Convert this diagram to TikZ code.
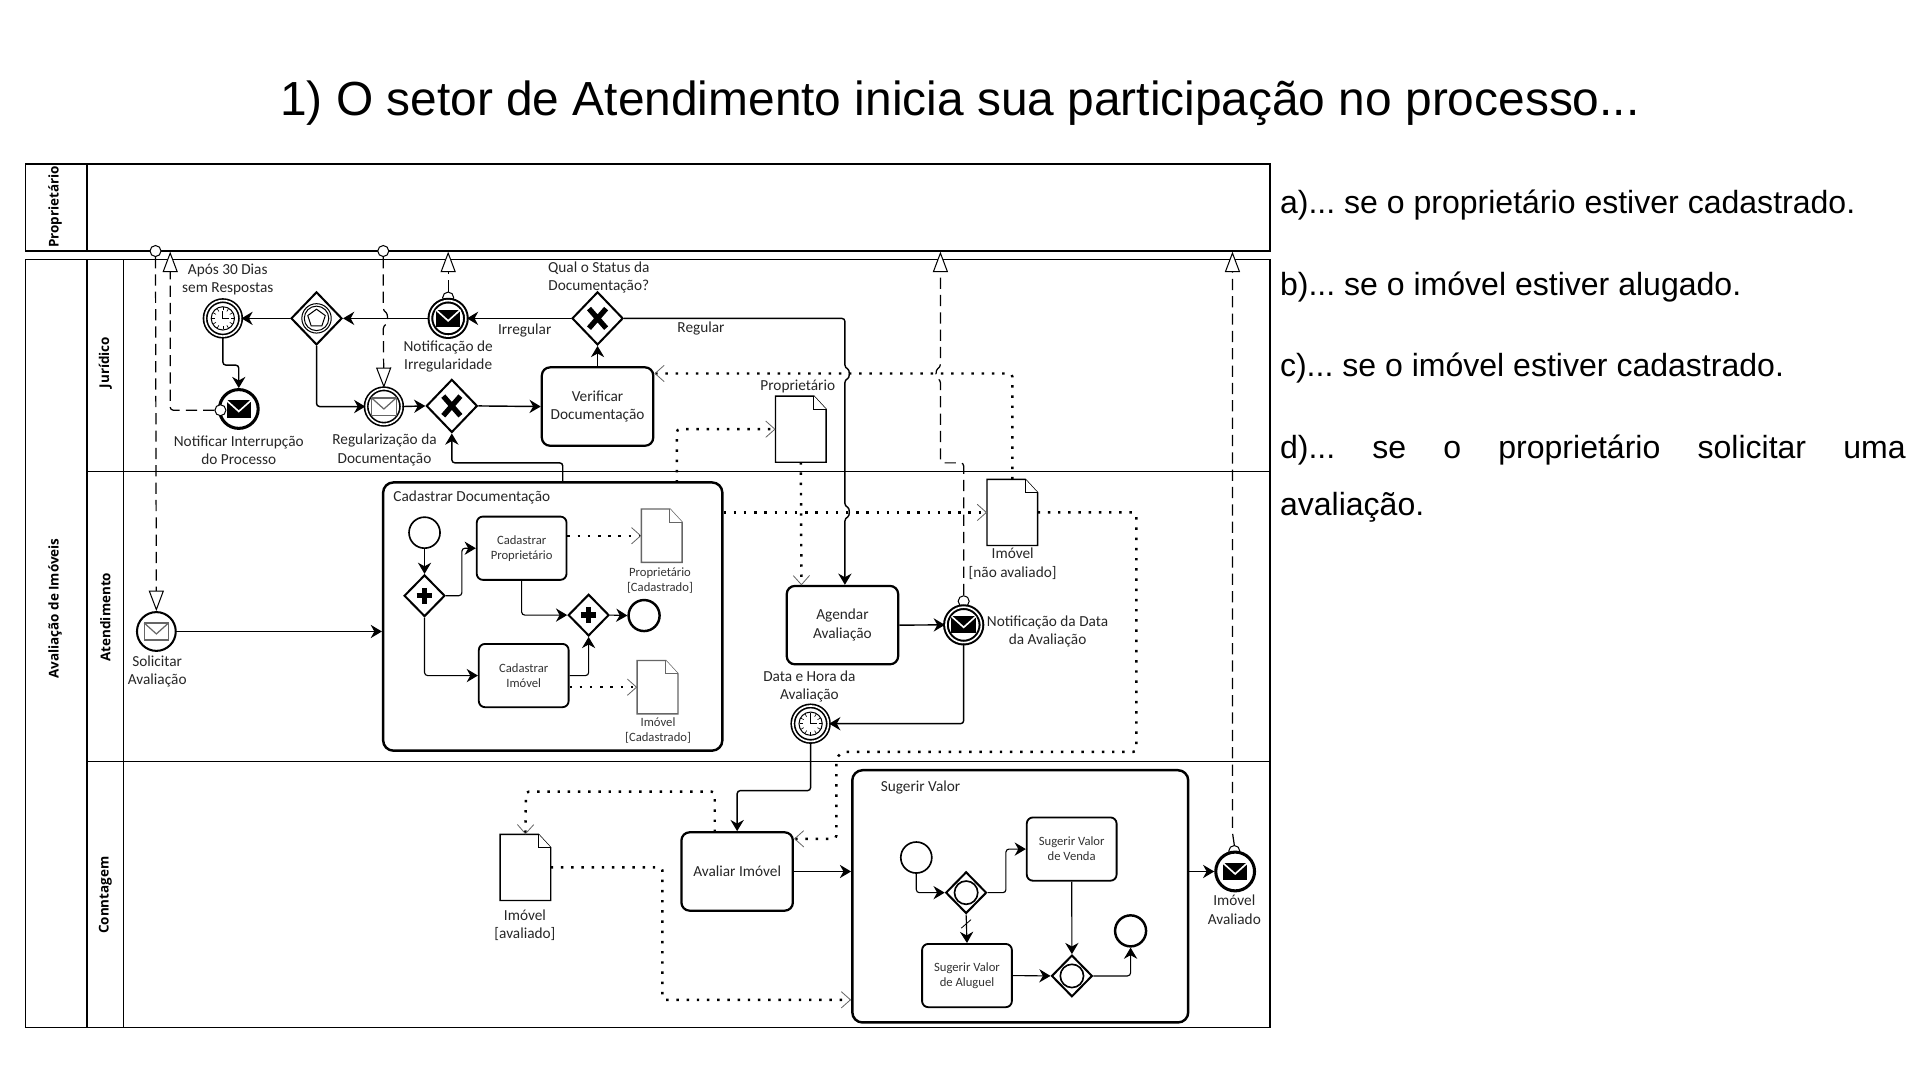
\documentclass[tikz,border=0pt]{standalone}
\usepackage{fontspec}
\setmainfont{Liberation Sans}
\newfontfamily\diagfont{Carlito}
\newfontfamily\lanefont{Open Sans}
\usepackage{xcolor}
\usepackage{tikz}
\usetikzlibrary{shapes.geometric,arrows.meta}

\tikzset{
    pics/mailblack/.style={code={
        \fill[black] (-10,-7) rectangle (10,7);
        \draw[white, line width=0.8pt] (-10,-7) -- (0,2) -- (10,-7);
    }},
    pics/mailwhite/.style={code={
        \draw[black!60, fill=white, line width=0.6pt] (-10,-7) rectangle (10,7);
        \draw[black!60, line width=0.6pt] (-10,-7) -- (0,2) -- (10,-7);
    }},
    pics/clockface/.style={code={
        \draw[line width=0.5pt] (0,0) circle (9.5);
        \foreach \a in {0,30,...,330} \draw[line width=0.3pt] (\a:6.5) -- (\a:9);
        \draw[line width=0.5pt] (0,-6) -- (0,0) -- (5,0);
    }},
    pics/xmark/.style={code={
        \draw[line width=2.6pt] (-7,-8) -- (7,8) (-7,8) -- (7,-8);
    }},
    pics/plusmark/.style={code={
        \draw[line width=2.6pt] (-8,0) -- (8,0) (0,-8) -- (0,8);
    }},
    pics/pentamark/.style={code={
        \draw[line width=0.5pt] (0,0) circle (12) (0,0) circle (10);
        \draw[line width=0.5pt] (270:7.5) -- (342:7.5) -- (54:7.5) -- (126:7.5) -- (198:7.5) -- cycle;
    }},
    pics/ringmark/.style={code={
        \draw[line width=0.8pt] (0,0) circle (9.5);
    }}
}

\newcommand{\docshape}[3]{%
    \node[docbox, minimum width=#3] (#1) at (#2) {};
    \draw[docline] (#1.south west) -- (#1.north west) -- ([xshift=-6pt]#1.north east)
        -- ([yshift=-6.5pt]#1.north east) -- (#1.south east) -- cycle;
    \draw[docline, line width=0.4pt] ([xshift=-6pt]#1.north east) -- ([xshift=-6pt,yshift=-6.5pt]#1.north east)
        -- ([yshift=-6.5pt]#1.north east);
}

\begin{document}
\frenchspacing
\begin{tikzpicture}[
    x=0.6pt, y=-0.6pt,
    title/.style={font=\fontsize{23.45}{28}\selectfont, inner sep=0, yshift=-2.4pt},
    answer/.style={font=\fontsize{15.7}{19}\selectfont, inner sep=0, anchor=west, yshift=-1.6pt},
    lbl/.style={font=\diagfont\fontsize{7.5}{9}\selectfont, align=center, inner sep=0, text=black!85, yshift=-0.6pt},
    smalllbl/.style={font=\diagfont\fontsize{6.2}{7.3}\selectfont, align=center, inner sep=0, text=black!80},
    lane/.style={font=\lanefont\bfseries\fontsize{6.6}{8}\selectfont, rotate=90, inner sep=0, xshift=0.6pt},
    frame/.style={draw, line width=0.7pt},
    task/.style={rectangle, draw, rounded corners=4pt, line width=1.1pt, minimum width=54.6pt, minimum height=38.4pt,
        inner sep=0, align=center, font=\diagfont\fontsize{7.5}{9.2}\selectfont, text=black!85, fill=white},
    smalltask/.style={rectangle, draw, rounded corners=3pt, line width=0.9pt, minimum width=44pt, minimum height=31pt,
        inner sep=0, align=center, font=\diagfont\fontsize{6.2}{7.3}\selectfont, text=black!80, fill=white},
    subproc/.style={rectangle, draw, rounded corners=5pt, line width=1.2pt, inner sep=0},
    gate/.style={diamond, draw, line width=1pt, minimum width=25pt, minimum height=26pt, inner sep=0, fill=white},
    smallgate/.style={diamond, draw, line width=1pt, minimum width=20pt, minimum height=20.4pt, inner sep=0, fill=white},
    plain/.style={circle, draw, line width=0.8pt, minimum size=15.2pt, inner sep=0, fill=white},
    endplain/.style={circle, draw, line width=1.2pt, minimum size=15.2pt, inner sep=0, fill=white},
    endevent/.style={circle, draw, line width=1.5pt, minimum size=19pt, inner sep=0, fill=white},
    inter/.style={circle, draw, line width=0.8pt, double, double distance=0.8pt, minimum size=17.4pt, inner sep=0, fill=white},
    startmsg/.style={circle, draw, line width=1pt, minimum size=19pt, inner sep=0, fill=white},
    orig/.style={circle, draw, line width=0.5pt, minimum size=5.4pt, inner sep=0, fill=white},
    docbox/.style={rectangle, inner sep=0, minimum height=32pt},
    docline/.style={draw, fill=white, line width=0.7pt},
    flow/.style={-{Stealth[length=5.5pt,width=6.5pt]}, line width=0.7pt, rounded corners=1.5pt},
    assoc/.style={-{Straight Barb[length=4.5pt,width=8pt,line width=0.4pt,black!60]}, line width=1.2pt,
        dash pattern=on 1.2pt off 3.8pt, rounded corners=1.5pt},
    msg/.style={-{Triangle[length=10pt,width=7.4pt,fill=white,line width=0.5pt]}, line width=0.6pt,
        dash pattern=on 5.5pt off 3pt, rounded corners=1.5pt}
]
\useasboundingbox (0,0) rectangle (1568,882);

% Title and answers
\node[title] (ttl) at (784,80) {1) O setor de Atendimento inicia sua participação no processo...};
\node[answer] (ansa) at (1045,165) {a)... se o proprietário estiver cadastrado.};
\node[answer] (ansb) at (1045,232) {b)... se o imóvel estiver alugado.};
\node[answer] (ansc) at (1045,298) {c)... se o imóvel estiver cadastrado.};
\node[answer] (ansd) at (1045,365) {\hbox to 306.6pt{d)...\hfill se\hfill o\hfill proprietário\hfill solicitar\hfill uma}};
\node[answer] (anse) at (1045,412) {avaliação.};

% Pools and lanes
\draw[frame] (21,134) rectangle (1037,205);
\draw[frame] (71,134) -- (71,205);
\draw[frame] (21,212) rectangle (1037,839);
\draw[frame] (71,212) -- (71,839);
\draw[frame] (101,212) -- (101,839);
\draw[frame] (71,385) -- (1037,385);
\draw[frame] (71,622) -- (1037,622);
\node[lane] (lprop) at (45,170) {Proprietário};
\node[lane] (laval) at (45,498) {Avaliação de Imóveis};
\node[lane] (ljur) at (86,297) {Jurídico};
\node[lane] (laten) at (86,505) {Atendimento};
\node[lane] (lcont) at (86,732) {Conntagem};

% Pool boundary points
\coordinate (pa) at (139,205.5);
\coordinate (pb) at (366,205.5);
\coordinate (pc) at (768,205.5);
\coordinate (pd) at (1006.5,205.5);
\node[orig] (oa) at (127,205) {};
\node[orig] (ob) at (313,205) {};
\node[orig] (oc) at (366,243) {};
\node[orig] (od) at (787,491) {};
\node[orig] (oe) at (1008,695) {};

% Juridico side
\node[inter] (timera) at (182,260) {};
\pic at (timera) {clockface};
\node[gate] (gwevent) at (258.5,260) {};
\pic at (gwevent) {pentamark};
\node[inter, line width=1pt] (notifirr) at (366,260) {};
\pic at (notifirr) {mailblack};
\node[gate] (gwstatus) at (488,260) {};
\pic at (gwstatus) {xmark};
\node[endevent] (notifint) at (195,334) {};
\pic at (notifint) {mailblack};
\node[orig] (of) at (180,335) {};
\node[inter] (regdoc) at (313.5,332) {};
\pic at (regdoc) {mailwhite};
\node[gate] (gwreg) at (369,331.5) {};
\pic at (gwreg) {xmark};
\node[task] (verificar) at (488,332) {Verificar\\Documentação};
\docshape{docprop}{654,350.5}{24.4pt}

\node[lbl] (tapos) at (186,227) {Após 30 Dias\\sem Respostas};
\node[lbl] (tstatus) at (489,225.5) {Qual o Status da\\Documentação?};
\node[lbl] (tnotif) at (366,290) {Notificação de\\Irregularidade};
\node[lbl] (tirr) at (428.5,268.5) {Irregular};
\node[lbl] (treg) at (572.5,267.5) {Regular};
\node[lbl] (tint) at (195,366.5) {Notificar Interrupção\\do Processo};
\node[lbl] (tregdoc) at (314,366.5) {Regularização da\\Documentação};
\node[lbl] (tprop) at (651.5,315) {Proprietário};

% Atendimento side
\node[startmsg] (solicitar) at (127.7,515.7) {};
\pic at (solicitar) {mailwhite};
\node[lbl] (tsol) at (128.4,547.5) {Solicitar\\Avaliação};
\node[subproc, minimum width=166.2pt, minimum height=131.4pt] (cadastrar) at (451.4,503.5) {};
\node[lbl, anchor=west] (tcad) at (321,405.5) {Cadastrar Documentação};
\node[plain] (startcad) at (346.7,435) {};
\node[smallgate] (gwopen) at (346.7,486.5) {};
\pic[scale=0.8] at (gwopen) {plusmark};
\node[smalltask] (cadprop) at (426,447.7) {Cadastrar\\Proprietário};
\node[smalltask] (cadimo) at (427.7,551.7) {Cadastrar\\Imóvel};
\node[smallgate] (gwjoin) at (480.7,502.3) {};
\pic[scale=0.8] at (gwjoin) {plusmark};
\node[endplain] (endcad) at (526,502.7) {};
\begin{scope}[docline/.append style={draw=black!60}, docbox/.append style={minimum height=25.8pt}]
\docshape{docpropc}{540.4,437.5}{19.6pt}
\docshape{docimoc}{537,561.2}{19.6pt}
\end{scope}
\node[smalllbl] (tpropc) at (539,474) {Proprietário\\{[Cadastrado]}};
\node[smalllbl] (timoc) at (537.4,596.5) {Imóvel\\{[Cadastrado]}};

\node[task] (agendar) at (688,510.5) {Agendar\\Avaliação};
\node[inter, line width=1pt] (notifdata) at (787,510.3) {};
\pic at (notifdata) {mailblack};
\node[inter] (timerb) at (662,591) {};
\pic at (timerb) {clockface};
\docshape{docnaoav}{826.7,418.5}{24.4pt}
\node[lbl] (tnaoav) at (827,459.5) {Imóvel\\{[não avaliado]}};
\node[lbl] (tdata) at (855.5,514.5) {Notificação da Data\\da Avaliação};
\node[lbl] (thora) at (661,559.5) {Data e Hora da\\Avaliação};

% Contagem side
\node[task] (avaliar) at (602,711.7) {Avaliar Imóvel};
\docshape{docaval}{429.1,708.4}{24.4pt}
\node[lbl] (taval) at (428.7,754.5) {Imóvel\\{[avaliado]}};
\node[subproc, minimum width=164.6pt, minimum height=123.6pt] (sugerir) at (833.2,732) {};
\node[lbl, anchor=west] (tsug) at (719,642.4) {Sugerir Valor};
\node[plain] (startsug) at (748.3,700.3) {};
\node[smallgate] (gwsug) at (789,729) {};
\pic at (gwsug) {ringmark};
\node[smalltask] (venda) at (875.2,693.4) {Sugerir Valor\\de Venda};
\node[smalltask] (aluguel) at (789.7,796.7) {Sugerir Valor\\de Aluguel};
\node[smallgate] (gwfim) at (875.4,797) {};
\pic at (gwfim) {ringmark};
\node[endplain] (endsug) at (923.3,760.2) {};
\node[endevent] (imoaval) at (1008.7,711.7) {};
\pic at (imoaval) {mailblack};
\node[lbl] (timoav) at (1008,742) {Imóvel\\Avaliado};

% Sequence flows
\draw[flow] (gwstatus.west) -- (notifirr.east);
\draw[flow] (notifirr.west) -- (gwevent.east);
\draw[flow] (gwevent.west) -- (timera.east);
\draw[flow] (timera.south) -- ++(0,23) -| (notifint.north);
\draw[flow] (gwevent.south) |- (regdoc.west);
\draw[flow] (regdoc.east) -- (gwreg.west);
\draw[flow] (gwreg.east) -- (verificar.west);
\draw[flow] (verificar.north) -- (gwstatus.south);
\draw[flow] (gwstatus.east) -- (690,260) -- (690,300.5) .. controls (694,302) and (694,308.5) .. (690,310)
    -- (690,413.5) .. controls (694,415) and (694,421.5) .. (690,423) -- (agendar.north -| 690,0);
\draw[flow] (459.6,394) -- (459.6,378) -| (gwreg.south);
\draw[flow] (solicitar.east) -- (cadastrar.west |- solicitar.east);
\draw[flow, line width=0.55pt] (startcad.south) -- (gwopen.north);
\draw[flow, line width=0.55pt] (gwopen.east) -- ++(13,0) |- (cadprop.west);
\draw[flow, line width=0.55pt] (gwopen.south) |- (cadimo.west);
\draw[flow, line width=0.55pt] (cadprop.south) |- (gwjoin.west);
\draw[flow, line width=0.55pt] (cadimo.east) -| (gwjoin.south);
\draw[flow, line width=0.55pt] (gwjoin.east) -- (endcad.west);
\draw[flow] (agendar.east) -- (notifdata.west);
\draw[flow] (notifdata.south) |- (timerb.east);
\draw[flow] (timerb.south) -- ++(0,39.5) -| (avaliar.north);
\draw[flow] (avaliar.east) -- (sugerir.west |- avaliar.east);
\draw[flow] (sugerir.east |- imoaval.west) -- (imoaval.west);
\draw[flow, line width=0.55pt] (startsug.south) |- (gwsug.west);
\draw[flow, line width=0.55pt] (gwsug.east) -- ++(15,0) |- (venda.west);
\draw[flow, line width=0.55pt] (gwsug.south) -- (aluguel.north);
\draw[line width=0.4pt] (785,758) -- (793,751);
\draw[flow, line width=0.55pt] (aluguel.east) -- (gwfim.west);
\draw[flow, line width=0.55pt] (venda.south) -- (gwfim.north);
\draw[flow, line width=0.55pt] (gwfim.east) -| (endsug.south);

% Message flows
\draw[msg] (oa.south) -- (solicitar.north);
\draw[msg] (of.west) -| (pa);
\draw[msg] (ob.south) -- (313,254) .. controls (317,256) and (317,264) .. (313,266) -- (regdoc.north);
\draw[msg] (oc.north) -- (pb);
\draw[msg] (od.north) -- (787,378) -- (768,378) -- (768,310) .. controls (764,308.5) and (764,302) .. (768,300) -- (pc);
\draw[msg] (oe.north) -- (1006.5,680) -- (pd);

% Data associations
\draw[assoc] (docnaoav.north) |- (verificar.east |- 826,305);
\draw[assoc] (552.7,394) |- (docprop.west);
\draw[assoc] (docprop.south) -- (654.5,478);
\draw[assoc] (cadastrar.east |- docnaoav.west) -- (docnaoav.west);
\draw[assoc] (docnaoav.east) -| (928,614) -- (688,614) -- (683,619) |- (avaliar.east |- 683,685);
\draw[assoc] (583.7,679.6) |- (429.5,646.5) -- (docaval.north);
\draw[assoc] (docaval.east) -| (541,816.5) -- (sugerir.west |- 541,816.5);
\draw[assoc, line width=0.9pt] (cadprop.east |- docpropc.west) -- (docpropc.west);
\draw[assoc, line width=0.9pt] (cadimo.east |- docimoc.west) -- (docimoc.west);

\end{tikzpicture}
\end{document}
